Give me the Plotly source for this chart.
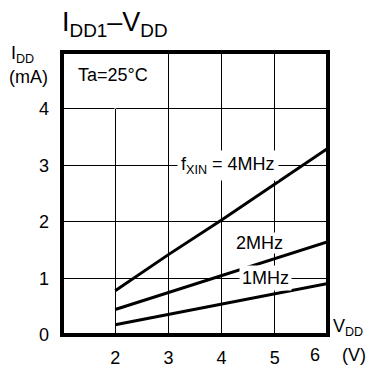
import plotly.graph_objects as go

vdd = [2, 3, 4, 5, 6]
i_4mhz = [0.78, 1.42, 2.03, 2.67, 3.30]
i_2mhz = [0.45, 0.75, 1.05, 1.36, 1.65]
i_1mhz = [0.18, 0.36, 0.54, 0.72, 0.91]

x_ticks = [2, 3, 4, 5]
x_ticktext = ["2", "3", "4", "5"]
y_ticks = [0, 1, 2, 3, 4]
y_ticktext = ["0", "1", "2", "3", "4"]

FONT = "Liberation Sans, Arial, sans-serif"
FS = 18
L, R, T, B = 62, 328, 52, 335
PW, PH = R - L, B - T

fig = go.Figure()
for ys in (i_4mhz, i_2mhz, i_1mhz):
    fig.add_trace(go.Scatter(x=vdd, y=ys, mode="lines",
                             line=dict(color="black", width=3),
                             showlegend=False, hoverinfo="skip"))

fig.update_layout(
    width=370, height=367,
    margin=dict(l=L, r=370 - R, t=T, b=367 - B, autoexpand=False),
    paper_bgcolor="white", plot_bgcolor="white",
    font=dict(family=FONT, size=FS, color="black"),
    xaxis=dict(range=[1, 6], tickvals=x_ticks, ticktext=x_ticktext,
               showgrid=True, gridcolor="black", gridwidth=1,
               zeroline=False, showline=False, ticks="", automargin=False,
               ticklabelstandoff=10, tickfont=dict(size=FS)),
    yaxis=dict(range=[0, 5], tickvals=y_ticks, ticktext=y_ticktext,
               showgrid=True, gridcolor="black", gridwidth=1,
               zeroline=False, showline=False, ticks="", automargin=False,
               ticklabelstandoff=12, tickfont=dict(size=FS)),
    title=dict(text="I<sub>DD1</sub>–V<sub>DD</sub>",
               x=62/370, xanchor="left",
               xref="container", y=1-22/367, yanchor="middle", yref="container",
               automargin=False, font=dict(family=FONT, size=27)),
)

# hide the x=2 gridline inside the "Ta" cell
fig.add_shape(type="line", x0=2, x1=2, y0=4, y1=5, xref="x", yref="y",
              line=dict(color="white", width=2), layer="above")
# thick frame
fig.add_shape(type="rect", x0=0, x1=1, y0=0, y1=1, xref="paper", yref="paper",
              line=dict(color="black", width=4), layer="above")


def px(x, y):
    return (x - L) / PW, (B - y) / PH


ann = []
ann.append(dict(text="f<sub>XIN</sub> = 4MHz", x=4.12, y=3, xref="x", yref="y",
                showarrow=False, bgcolor="white", borderpad=3))
ann.append(dict(text="2MHz", x=4.72, y=1.62, xref="x", yref="y",
                showarrow=False, bgcolor="white", borderpad=0))
ann.append(dict(text="1MHz", x=4.83, y=1.0, xref="x", yref="y",
                showarrow=False, bgcolor="white", borderpad=2))
ann.append(dict(text="Ta=25°C", x=1.26, y=4.59, xref="x", yref="y",
                xanchor="left", showarrow=False))
# x tick "6" and unit
ann.append(dict(text="6", x=6, y=0, xref="x", yref="y", xshift=-13, yshift=-20,
                yanchor="middle", showarrow=False))
ann.append(dict(text="(V)", x=6, y=0, xref="x", yref="y", xshift=12, yshift=-20,
                xanchor="left", yanchor="middle", showarrow=False))
ann.append(dict(text="V<sub>DD</sub>", x=6, y=0, xref="x", yref="y", xshift=3, yshift=8,
                xanchor="left", yanchor="middle", showarrow=False))
# y axis title
ax, ay = px(9, 54)
ann.append(dict(text="I<sub>DD</sub>", x=ax, y=ay, xref="paper", yref="paper",
                showarrow=False, xanchor="left", yanchor="middle"))
ax, ay = px(28, 77)
ann.append(dict(text="(mA)", x=ax, y=ay, xref="paper", yref="paper",
                showarrow=False, xanchor="center", yanchor="middle"))
for a in ann:
    a["font"] = dict(family=FONT, size=FS, color="black")
fig.layout.annotations = ann

fig.write_html("out.html", config={"displayModeBar": False},
               post_script="document.body.style.margin='0';document.body.style.overflow='hidden';")
